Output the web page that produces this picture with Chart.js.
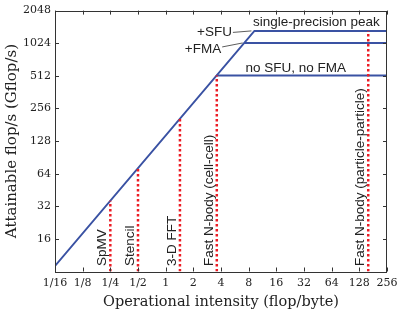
<!DOCTYPE html>
<html>
<head>
<meta charset="utf-8">
<script src="https://cdn.jsdelivr.net/npm/chart.js@4/dist/chart.umd.min.js"></script>
<style>
  html, body { margin: 0; padding: 0; background: #fff; }
  #wrap { width: 407px; height: 315px; }
</style>
</head>
<body>
<div id="wrap"><canvas id="c" width="407" height="315"></canvas></div>
<script>
// ---- data ----
const xTicks = [1/16, 1/8, 1/4, 1/2, 1, 2, 4, 8, 16, 32, 64, 128, 256];
const xTickLabels = ['1/16', '1/8', '1/4', '1/2', '1', '2', '4', '8', '16', '32', '64', '128', '256'];
const yTicks = [8, 16, 32, 64, 128, 256, 512, 1024, 2048];
const yTickLabels = ['', '16', '32', '64', '128', '256', '512', '1024', '2048'];

// memory-bound slope start (intensity, Gflop/s)
const slopeStartX = 0.0625;
const slopeStartY = 9;
// compute ceilings
const ceilingNames = ['no SFU, no FMA', '+FMA', '+SFU'];
const ceilingValues = [515, 1030, 1330];
const ceilingRidge = [3.58, 7.15, 9.24];
const peakLabel = 'single-precision peak';

// kernels
const kernels = ['SpMV', 'Stencil', '3-D FFT', 'Fast N-body (cell-cell)', 'Fast N-body (particle-particle)'];
const kernelIntensity = [0.25, 0.5, 1.43, 3.6, 160];
const kernelAttainable = [36, 72, 206, 515, 1330];

// ---- chart ----
const BLUE = '#3a52a3';
const RED = '#ec1c24';
const INK = '#222';
const SERIF = '"DejaVu Serif", serif';
const SANS = '"Liberation Sans", Arial, sans-serif';

const datasets = [];
kernels.forEach((k, i) => {
  datasets.push({
    label: k,
    data: [{x: kernelIntensity[i], y: yTicks[0]}, {x: kernelIntensity[i], y: kernelAttainable[i]}],
    borderColor: RED, borderWidth: 2.5, borderDash: [2.5, 2.5], pointRadius: 0, fill: false
  });
});
// top roof with slope
datasets.push({
  label: ceilingNames[2],
  data: [{x: slopeStartX, y: slopeStartY}, {x: ceilingRidge[2], y: ceilingValues[2]}, {x: xTicks[xTicks.length - 1], y: ceilingValues[2]}],
  borderColor: BLUE, borderWidth: 2, pointRadius: 0, fill: false
});
[0, 1].forEach(i => {
  datasets.push({
    label: ceilingNames[i],
    data: [{x: ceilingRidge[i], y: ceilingValues[i]}, {x: xTicks[xTicks.length - 1], y: ceilingValues[i]}],
    borderColor: BLUE, borderWidth: 2, pointRadius: 0, fill: false
  });
});

const framePlugin = {
  id: 'frame',
  afterDatasetsDraw(chart) {
    const {ctx, chartArea: a, scales: {x, y}} = chart;
    ctx.save();
    // box
    ctx.strokeStyle = '#333';
    ctx.lineWidth = 1;
    ctx.strokeRect(Math.round(a.left) + 0.5, Math.round(a.top) + 0.5, Math.round(a.right - a.left) - 1, Math.round(a.bottom - a.top));
    // inward ticks
    const TL = 4;
    ctx.beginPath();
    xTicks.forEach(v => {
      const px = Math.round(x.getPixelForValue(v)) + 0.5;
      ctx.moveTo(px, a.bottom); ctx.lineTo(px, a.bottom - TL);
      ctx.moveTo(px, a.top); ctx.lineTo(px, a.top + TL);
    });
    yTicks.forEach(v => {
      const py = Math.round(y.getPixelForValue(v)) + 0.5;
      ctx.moveTo(a.left, py); ctx.lineTo(a.left + TL, py);
      ctx.moveTo(a.right, py); ctx.lineTo(a.right - TL, py);
    });
    ctx.stroke();

    // kernel labels (vertical)
    ctx.fillStyle = INK;
    ctx.font = '13.5px ' + SANS;
    ctx.textAlign = 'left';
    ctx.textBaseline = 'middle';
    const base = y.getPixelForValue(yTicks[0]);
    kernels.forEach((k, i) => {
      const px = x.getPixelForValue(kernelIntensity[i]) - 8;
      ctx.save();
      ctx.translate(px, base - 5.5);
      ctx.rotate(-Math.PI / 2);
      ctx.fillText(k, 0, 0);
      ctx.restore();
    });

    // ceiling labels
    const kx = ceilingRidge.map(v => x.getPixelForValue(v));
    const ky = ceilingValues.map(v => y.getPixelForValue(v));
    ctx.textBaseline = 'alphabetic';
    ctx.textAlign = 'left';
    ctx.fillText(peakLabel, kx[2] - 1.5, ky[2] - 5);
    ctx.fillText(ceilingNames[0], kx[0] + 29, ky[0] - 3.5);
    ctx.textAlign = 'right';
    ctx.textBaseline = 'middle';
    ctx.fillText(ceilingNames[2], kx[2] - 22.5, ky[2] + 1.5);
    ctx.fillText(ceilingNames[1], kx[1] - 23, ky[1] + 6.5);
    // leaders
    ctx.strokeStyle = '#333';
    ctx.lineWidth = 0.8;
    ctx.beginPath();
    ctx.moveTo(kx[2] - 21.5, ky[2] + 1.5); ctx.lineTo(kx[2] - 3, ky[2]);
    ctx.moveTo(kx[1] - 22, ky[1] + 4); ctx.lineTo(kx[1] - 1.5, ky[1]);
    ctx.stroke();
    ctx.restore();
  }
};

new Chart(document.getElementById('c'), {
  type: 'line',
  data: { datasets },
  options: {
    responsive: false,
    animation: false,
    devicePixelRatio: 1,
    layout: { padding: { left: 0, right: 20, top: 10, bottom: 0 } },
    plugins: { legend: { display: false }, tooltip: { enabled: false } },
    scales: {
      x: {
        type: 'logarithmic',
        min: xTicks[0], max: xTicks[xTicks.length - 1],
        afterBuildTicks: s => { s.ticks = xTicks.map(v => ({ value: v })); },
        afterFit: s => { s.height = 43.5; },
        ticks: {
          autoSkip: false, maxRotation: 0, minRotation: 0, padding: 5,
          color: INK, font: { family: SERIF, size: 11 },
          callback: v => xTickLabels[xTicks.indexOf(v)]
        },
        grid: { display: false, drawTicks: false },
        border: { display: false },
        title: {
          display: true, text: 'Operational intensity (flop/byte)',
          color: INK, font: { family: SERIF, size: 14.5 }, padding: { top: 0, bottom: 4 }
        }
      },
      y: {
        type: 'logarithmic',
        min: yTicks[0], max: yTicks[yTicks.length - 1],
        afterBuildTicks: s => { s.ticks = yTicks.map(v => ({ value: v })); },
        afterFit: s => { s.width = 55; },
        ticks: {
          autoSkip: false, padding: 4,
          color: INK, font: { family: SERIF, size: 11 },
          callback: v => yTickLabels[yTicks.indexOf(v)]
        },
        grid: { display: false, drawTicks: false },
        border: { display: false },
        title: {
          display: true, text: 'Attainable flop/s (Gflop/s)',
          color: INK, font: { family: SERIF, size: 15 }, padding: { top: 3.5, bottom: 0 }
        }
      }
    }
  },
  plugins: [framePlugin]
});
</script>
</body>
</html>
